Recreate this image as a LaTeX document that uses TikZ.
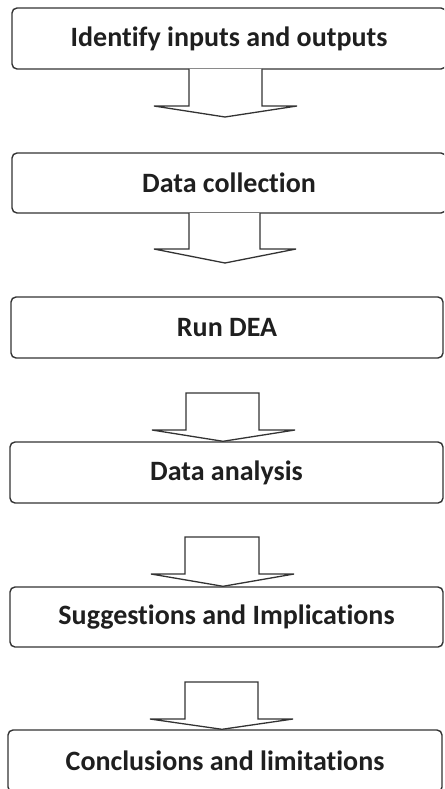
\documentclass[tikz,border=0pt]{standalone}
\usepackage{fontspec}
\setmainfont[Ligatures={NoCommon}]{Carlito}
\begin{document}
\begin{tikzpicture}[x=1pt,y=-1pt,
  box/.style={draw=black!80, line width=1.4pt, rounded corners=5pt, fill=white,
    minimum width=434pt, minimum height=61pt, inner sep=0pt,
    font=\fontsize{28}{32}\selectfont\bfseries, text=black!88},
  blockarrow/.style={draw=black!80, line width=1.3pt, fill=white, line join=miter}]
\useasboundingbox (0,0) rectangle (444,789);
\clip (0,0) rectangle (444,789);
\fill[white] (0,0) rectangle (444,789);

\node[box] (b1) at (229,38.5) {Identify inputs and outputs};
\node[box, minimum height=60pt] (b2) at (229,183) {Data collection};
\node[box, minimum width=432pt] (b3) at (227,327.5) {Run DEA};
\node[box, minimum width=433pt] (b4) at (226.5,472.5) {Data analysis};
\node[box, minimum width=433pt, minimum height=60pt] (b5) at (226.5,617) {Suggestions and Implications};
\node[box, minimum height=62pt] (b6) at (225,761) {Conclusions and limitations};

% open-top arrows hanging from the boxes
\draw[blockarrow] (189,69) -- (189,106) -- (154,106) -- (225,117) -- (297,106) -- (262,106) -- (262,69);
\draw[blockarrow] (189,213) -- (189,249) -- (154,249) -- (225,263) -- (296,249) -- (260,249) -- (260,213);
% closed arrows pointing to the next box
\draw[blockarrow] (186,393) -- (186,430) -- (152,430) -- (b4.north -| 223,0) -- (295,430) -- (259,430) -- (259,393) -- cycle;
\draw[blockarrow] (185,537) -- (185,574) -- (151,574) -- (b5.north -| 223,0) -- (294,574) -- (259,574) -- (259,537) -- cycle;
\draw[blockarrow] (185,682) -- (185,719) -- (150,719) -- (b6.north -| 222,0) -- (293,719) -- (258,719) -- (258,682) -- cycle;
\end{tikzpicture}
\end{document}
